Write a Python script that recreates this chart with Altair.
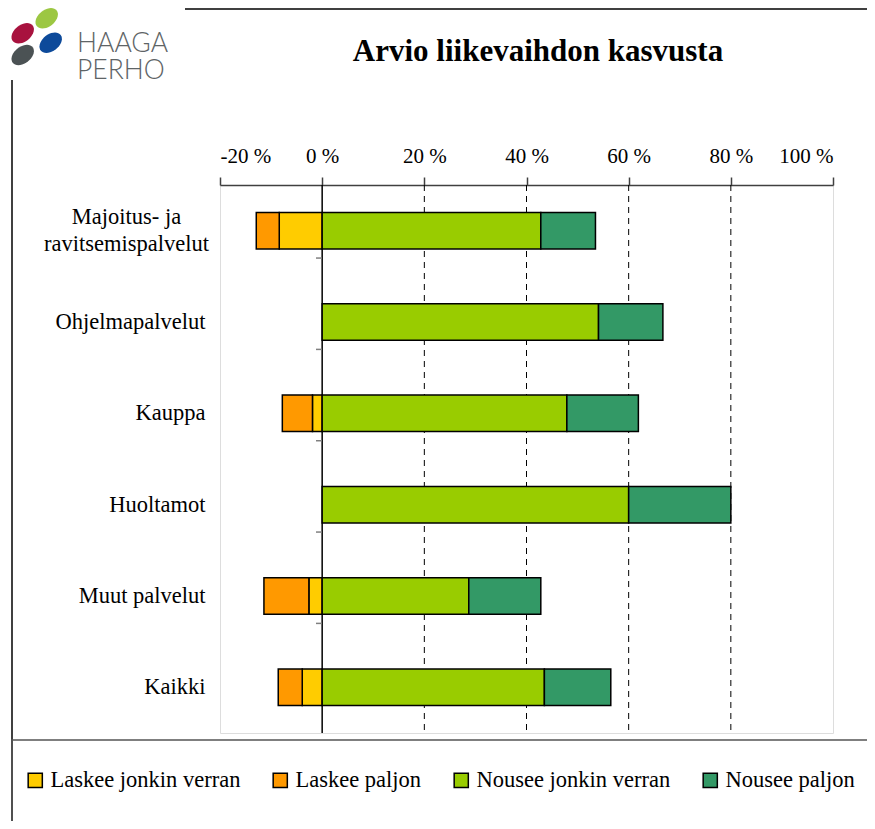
import math
import altair as alt
import pandas as pd

# ---- data ----
categories = ["Majoitus- ja|ravitsemispalvelut", "Ohjelmapalvelut", "Kauppa",
              "Huoltamot", "Muut palvelut", "Kaikki"]
series = ["Laskee jonkin verran", "Laskee paljon", "Nousee jonkin verran", "Nousee paljon"]
laskee_jonkin = [8.4, 0.0, 1.9, 0.0, 2.6, 3.9]
laskee_paljon = [4.5, 0.0, 5.9, 0.0, 8.8, 4.7]
nousee_jonkin = [42.8, 54.1, 47.9, 60.0, 28.7, 43.5]
nousee_paljon = [10.7, 12.6, 14.0, 20.0, 14.1, 13.0]
colors = ["#FFCC00", "#FF9900", "#99CC00", "#339966"]
x_ticks = [-20, 0, 20, 40, 60, 80, 100]
grid_values = [20, 40, 60, 80]
title_text = "Arvio liikevaihdon kasvusta"

# ---- build diverging stacked table ----
rows = []
for i, cat in enumerate(categories):
    lj, lp, nj, np_ = laskee_jonkin[i], laskee_paljon[i], nousee_jonkin[i], nousee_paljon[i]
    segs = [
        (series[0], 0.0, -lj),
        (series[1], -lj, -lj - lp),
        (series[2], 0.0, nj),
        (series[3], nj, nj + np_),
    ]
    for s, a, b in segs:
        if abs(b - a) > 0:
            rows.append({"cat": cat, "series": s, "start": a, "end": b})
df = pd.DataFrame(rows)

FONT = "Liberation Serif"
xscale = alt.Scale(domain=[-20, 100], nice=False, zero=False)
yscale = alt.Scale(paddingInner=0.6, paddingOuter=0.3)
multi = "indexof(datum.value, '|') >= 0"

bars = alt.Chart(df).mark_bar(stroke="black", strokeWidth=1.5).encode(
    x=alt.X("start:Q", scale=xscale, title=None,
            axis=alt.Axis(orient="top", values=x_ticks, labelExpr="datum.value + ' %'",
                          grid=False, domainColor="#404040", domainWidth=1.5,
                          tickColor="#404040", tickWidth=1.5, tickSize=8,
                          labelFont=FONT, labelFontSize=21, labelColor="black",
                          labelPadding=11)),
    x2="end:Q",
    y=alt.Y("cat:N", sort=categories, title=None, scale=yscale,
            axis=alt.Axis(ticks=False, domain=False, labelFont=FONT, labelFontSize=22.5,
                          labelColor="black", labelLimit=0,
                          labelLineHeight=27,
                          labelAlign=alt.condition(multi, alt.value("center"), alt.value("right")),
                          labelPadding=alt.condition(multi, alt.value(94), alt.value(15)),
                          labelOffset=alt.condition(multi, alt.value(-13.5), alt.value(0)),
                          labelExpr="split(datum.label, '|')")),
    color=alt.Color("series:N", scale=alt.Scale(domain=series, range=colors),
                    legend=alt.Legend(orient="none", legendX=-196, legendY=584,
                                      direction="horizontal", title=None,
                                      symbolType="square", symbolSize=200,
                                      symbolStrokeColor="black", symbolStrokeWidth=1.5,
                                      symbolOpacity=1,
                                      labelFont=FONT, labelFontSize=22.5, labelColor="black",
                                      labelOffset=4, columnPadding=28, padding=0,
                                      labelLimit=0)),
)

grid = alt.Chart(pd.DataFrame({"v": grid_values})).mark_rule(
    color="black", strokeDash=[6, 5], strokeWidth=1).encode(
    x=alt.X("v:Q", scale=xscale, title=None))

zero = alt.Chart(pd.DataFrame({"v": [0]})).mark_rule(
    color="black", strokeWidth=1.5).encode(
    x=alt.X("v:Q", scale=xscale, title=None))

# small category ticks on the zero line, between categories
cat_ticks = alt.Chart(pd.DataFrame({"cat": categories[1:]})).mark_rule(
    color="#808080", strokeWidth=1.5).encode(
    y=alt.Y("cat:N", sort=categories, scale=yscale, title=None),
    yOffset=alt.value(-45.67),
    x=alt.value(96), x2=alt.value(102))

one = pd.DataFrame({"a": [0]})

title = alt.Chart(one).mark_text(text=title_text, font=FONT, fontSize=31,
                                 fontWeight="bold", align="center", baseline="middle",
                                 color="black").encode(
    x=alt.value(318), y=alt.value(-133))

# ---- decorations: logo, frame lines, legend box ----
def ellipse_path(a=1.0, b=0.66, theta_deg=38, n=36):
    th = math.radians(theta_deg)
    ux, uy = math.cos(th), -math.sin(th)
    vx, vy = math.sin(th), math.cos(th)
    pts = []
    for k in range(n):
        t = 2 * math.pi * k / n
        px = a * math.cos(t) * ux + b * math.sin(t) * vx
        py = a * math.cos(t) * uy + b * math.sin(t) * vy
        pts.append(f"{px:.3f},{py:.3f}")
    return "M" + " L".join(pts) + " Z"

ell = ellipse_path()
logo_layers = []
for (px, py, col) in [(-197.3, -151.7, "#A8123E"), (-173.3, -166.7, "#9CC742"),
                      (-169.3, -142.3, "#0D4A9A"), (-197.3, -130.0, "#4B5254")]:
    logo_layers.append(
        alt.Chart(one).mark_point(shape=ell, filled=True, size=640, opacity=1,
                                  color=col).encode(x=alt.value(px), y=alt.value(py)))

logo_text1 = alt.Chart(one).mark_text(text="HAAGA", font="Lato", fontSize=26.5,
                                      fontWeight=300, color="#5E6466", align="left",
                                      baseline="alphabetic").encode(
    x=alt.value(-143), y=alt.value(-133))
logo_text2 = alt.Chart(one).mark_text(text="PERHO", font="Lato", fontSize=26.5,
                                      fontWeight=300, color="#5E6466", align="left",
                                      baseline="alphabetic").encode(
    x=alt.value(-143), y=alt.value(-106))

top_line = alt.Chart(one).mark_rule(color="black", strokeWidth=1.5).encode(
    x=alt.value(-35), x2=alt.value(660), y=alt.value(-176))
left_line = alt.Chart(one).mark_rule(color="black", strokeWidth=1.5).encode(
    x=alt.value(-208), y=alt.value(-105), y2=alt.value(650))
legend_box = alt.Chart(one).mark_rect(fillOpacity=0, stroke="#555555",
                                      strokeWidth=1.5).encode(
    x=alt.value(-208), x2=alt.value(650), y=alt.value(555), y2=alt.value(637))

chart = alt.layer(grid, zero, cat_ticks, bars, title, *logo_layers, logo_text1, logo_text2,
                  top_line, left_line, legend_box).properties(
    width=613, height=548,
    autosize=alt.AutoSizeParams(type="none"),
    padding={"left": 212, "top": 177, "right": 34, "bottom": 88},
).configure_view(stroke="#8c8c8c", strokeWidth=1.5).configure(background="white")

chart.save("out.html", embed_options={"renderer": "svg", "actions": False})
